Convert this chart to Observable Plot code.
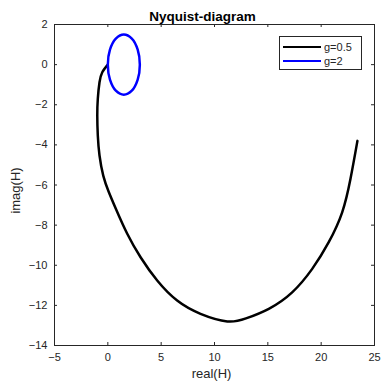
<!DOCTYPE html>
<html>
<head>
<meta charset="utf-8">
<script src="https://cdn.jsdelivr.net/npm/d3@7"></script>
<script src="https://cdn.jsdelivr.net/npm/@observablehq/plot@0.6"></script>
<style>
  body { margin: 0; background: #fff; }
  #wrap { position: relative; width: 381px; height: 385px; font-family: "Liberation Sans", Arial, sans-serif; }
  #legend { position: absolute; left: 279px; top: 36px; width: 81px; height: 32px; border: 1px solid #262626; background: #fff; font-size: 11px; color: #262626; }
  .row { position: absolute; left: 3px; height: 14px; display: flex; align-items: center; }
  .sw { width: 38px; height: 0; border-top: 2.5px solid; margin-right: 3px; }
</style>
</head>
<body>
<div id="wrap"></div>
<script>
const title = "Nyquist-diagram";
const xLabel = "real(H)";
const yLabel = "imag(H)";
const xTicks = [-5, 0, 5, 10, 15, 20, 25];
const yTicks = [-14, -12, -10, -8, -6, -4, -2, 0, 2];
const seriesNames = ["g=0.5", "g=2"];
const seriesColors = ["#000000", "#0000ff"];

// g=0.5 curve (real, imag)
const g05Real = [0, -0.52, -0.78, -0.94, -0.99, -0.94, -0.78, -0.43, 0.07, 0.75, 1.82, 3.07, 4.63, 6.5, 8.69, 11.2, 12.95, 15.09, 17.28, 19.16, 20.71, 21.97, 22.75, 23.4];
const g05Imag = [0, -0.38, -0.88, -1.7, -2.54, -3.53, -4.53, -5.53, -6.32, -7.18, -8.43, -9.6, -10.76, -11.76, -12.42, -12.8, -12.65, -12.17, -11.35, -10.18, -8.85, -7.36, -5.69, -3.8];
// g=2 curve (closed loop)
const g2Real = [3, 2.8, 2.25, 1.5, 0.75, 0.2, 0, 0.2, 0.75, 1.5, 2.25, 2.8];
const g2Imag = [0, 0.75, 1.3, 1.5, 1.3, 0.75, 0, -0.75, -1.3, -1.5, -1.3, -0.75];

const g05 = g05Real.map((r, i) => ({re: r, im: g05Imag[i]}));
const g2 = g2Real.map((r, i) => ({re: r, im: g2Imag[i]}));

const W = 381, H = 385, mL = 54, mR = 7, mT = 24, mB = 40;
const fW = W - mL - mR, fH = H - mT - mB;
const axisColor = "#262626";
const tl = 3;

const chart = Plot.plot({
  width: W, height: H,
  marginLeft: mL, marginRight: mR, marginTop: mT, marginBottom: mB,
  style: {fontFamily: '"Liberation Sans", Arial, sans-serif', background: "#fff", overflow: "visible"},
  x: {domain: [-5, 25]},
  y: {domain: [-14, 2]},
  marks: [
    Plot.axisX(xTicks, {tickSize: 0, tickPadding: 8, fontSize: 11, fill: axisColor, label: null}),
    Plot.axisY(yTicks, {tickSize: 0, tickPadding: 7, fontSize: 11, fill: axisColor, label: null}),
    Plot.tickX(xTicks, {x: d => d, insetTop: fH - tl, stroke: axisColor}),
    Plot.tickX(xTicks, {x: d => d, insetBottom: fH - tl, stroke: axisColor}),
    Plot.tickY(yTicks, {y: d => d, insetLeft: fW - tl, stroke: axisColor}),
    Plot.tickY(yTicks, {y: d => d, insetRight: fW - tl, stroke: axisColor}),
    Plot.line(g05, {x: "re", y: "im", stroke: seriesColors[0], strokeWidth: 2.5, curve: "natural"}),
    Plot.line(g2, {x: "re", y: "im", stroke: seriesColors[1], strokeWidth: 2.5, curve: "catmull-rom-closed"}),
    Plot.frame({stroke: axisColor}),
    Plot.text([title], {text: d => d, frameAnchor: "top", dx: -12, dy: -13, fontSize: 13.5, fontWeight: "bold", fill: "#000"}),
    Plot.text([xLabel], {text: d => d, frameAnchor: "bottom", dx: -3, dy: 32, fontSize: 13, fill: axisColor}),
    Plot.text([yLabel], {text: d => d, frameAnchor: "left", textAnchor: "middle", rotate: -90, dx: -39, dy: 5.5, fontSize: 13, fill: axisColor})
  ]
});

const wrap = document.getElementById("wrap");
wrap.appendChild(chart);
const legend = document.createElement("div");
legend.id = "legend";
seriesNames.forEach((name, i) => {
  const row = document.createElement("div");
  row.className = "row";
  row.style.top = (3 + i * 14) + "px";
  const sw = document.createElement("span");
  sw.className = "sw";
  sw.style.borderTopColor = seriesColors[i];
  const t = document.createElement("span");
  t.textContent = name;
  row.appendChild(sw); row.appendChild(t);
  legend.appendChild(row);
});
wrap.appendChild(legend);
</script>
</body>
</html>
